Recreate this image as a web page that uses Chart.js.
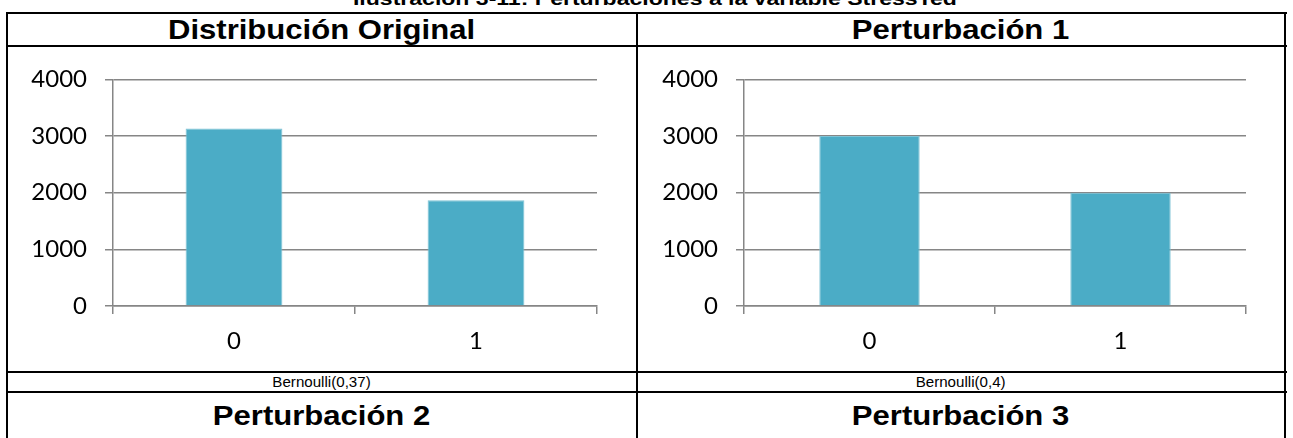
<!DOCTYPE html>
<html lang="es">
<head>
<meta charset="utf-8">
<title>Perturbaciones a la variable StressTed</title>
<script src="https://cdn.jsdelivr.net/npm/chart.js@4/dist/chart.umd.min.js"></script>
<style>
  html, body { margin: 0; padding: 0; background: #fff; overflow: hidden; }
  body { width: 1293px; height: 438px; position: relative; font-family: "Liberation Sans", Arial, sans-serif; color: #000; }
  .hl { position: absolute; height: 2px; background: #000; }
  .vl { position: absolute; width: 2px; background: #000; }
  .cell { position: absolute; text-align: center; white-space: nowrap; }
  .cell span { display: inline-block; transform-origin: center; }
  .head span { font-weight: bold; font-size: 27px; transform: scaleX(1.15); }
  .dist span { font-size: 14px; transform: scaleX(1.08); }
  .cap span { font-weight: bold; font-size: 18px; transform: scaleX(1.28); }
  canvas { position: absolute; }
</style>
</head>
<body>
<!-- caption, partly above the page edge -->
<div class="cell cap" style="left:0; width:1310px; top:-12px; height:22px; line-height:22px;"><span>Ilustración 3-11: Perturbaciones a la variable StressTed</span></div>

<!-- table rules -->
<div class="hl" style="left:7px; width:1280px; top:12px;"></div>
<div class="hl" style="left:7px; width:1280px; top:45px;"></div>
<div class="hl" style="left:7px; width:1280px; top:371px;"></div>
<div class="hl" style="left:7px; width:1280px; top:391px;"></div>
<div class="vl" style="left:6px; top:12px; height:430px;"></div>
<div class="vl" style="left:636px; top:12px; height:430px;"></div>
<div class="vl" style="left:1284px; top:12px; height:430px;"></div>

<!-- header row -->
<div class="cell head" style="left:8px; width:628px; top:14px; height:32px; line-height:32px;"><span>Distribución Original</span></div>
<div class="cell head" style="left:638px; width:646px; top:14px; height:32px; line-height:32px;"><span>Perturbación 1</span></div>

<!-- charts -->
<canvas id="chartOriginal" width="628" height="324" style="left:8px; top:47px;"></canvas>
<canvas id="chartPert1" width="646" height="324" style="left:638px; top:47px;"></canvas>

<!-- distribution row -->
<div class="cell dist" style="left:8px; width:628px; top:373px; height:18px; line-height:18px;"><span>Bernoulli(0,37)</span></div>
<div class="cell dist" style="left:638px; width:646px; top:373px; height:18px; line-height:18px;"><span>Bernoulli(0,4)</span></div>

<!-- next header row -->
<div class="cell head" style="left:8px; width:628px; top:394px; height:44px; line-height:44px;"><span>Perturbación 2</span></div>
<div class="cell head" style="left:638px; width:646px; top:394px; height:44px; line-height:44px;"><span>Perturbación 3</span></div>

<script>
// categories of the Bernoulli variable
const categories = ['0', '1'];
// frequencies per category
const originalCounts = [3135, 1865];
const perturbation1Counts = [3000, 2000];
// value-axis ticks
const yTickValues = [0, 1000, 2000, 3000, 4000];

const barColor = '#4BACC6';
const axisColor = '#868686';
const tickFont = { family: 'Lato', size: 24 };

function makeBarChart(canvasId, values, yAxisWidth, padRight) {
  const ctx = document.getElementById(canvasId).getContext('2d');
  return new Chart(ctx, {
    type: 'bar',
    data: {
      labels: categories,
      datasets: [{
        data: values,
        backgroundColor: barColor,
        borderColor: '#7fc3d5',
        borderWidth: 1,
        categoryPercentage: 1.0,
        barPercentage: 0.4
      }]
    },
    options: {
      responsive: false,
      animation: false,
      devicePixelRatio: 1,
      layout: { padding: { top: 30, right: padRight, left: 0, bottom: 0 } },
      plugins: { legend: { display: false }, tooltip: { enabled: false } },
      scales: {
        x: {
          type: 'category',
          offset: true,
          grid: { offset: true, drawOnChartArea: false, drawTicks: true, tickLength: 8, color: axisColor, lineWidth: 1.5 },
          border: { display: true, color: axisColor, width: 1.5 },
          ticks: { color: '#000', font: tickFont, padding: 13, maxRotation: 0 },
          afterFit: (scale) => { scale.height = 65; }
        },
        y: {
          min: yTickValues[0],
          max: yTickValues[yTickValues.length - 1],
          afterBuildTicks: (scale) => { scale.ticks = yTickValues.map(v => ({ value: v })); },
          grid: { color: axisColor, lineWidth: 1.5, drawTicks: true, tickLength: 8 },
          border: { display: true, color: axisColor, width: 1.5 },
          ticks: { color: '#000', font: tickFont, padding: 18, callback: (v) => String(v) },
          afterFit: (scale) => { scale.width = yAxisWidth; }
        }
      }
    }
  });
}

makeBarChart('chartOriginal', originalCounts, 105, 39);
makeBarChart('chartPert1', perturbation1Counts, 106, 38);
</script>
</body>
</html>
